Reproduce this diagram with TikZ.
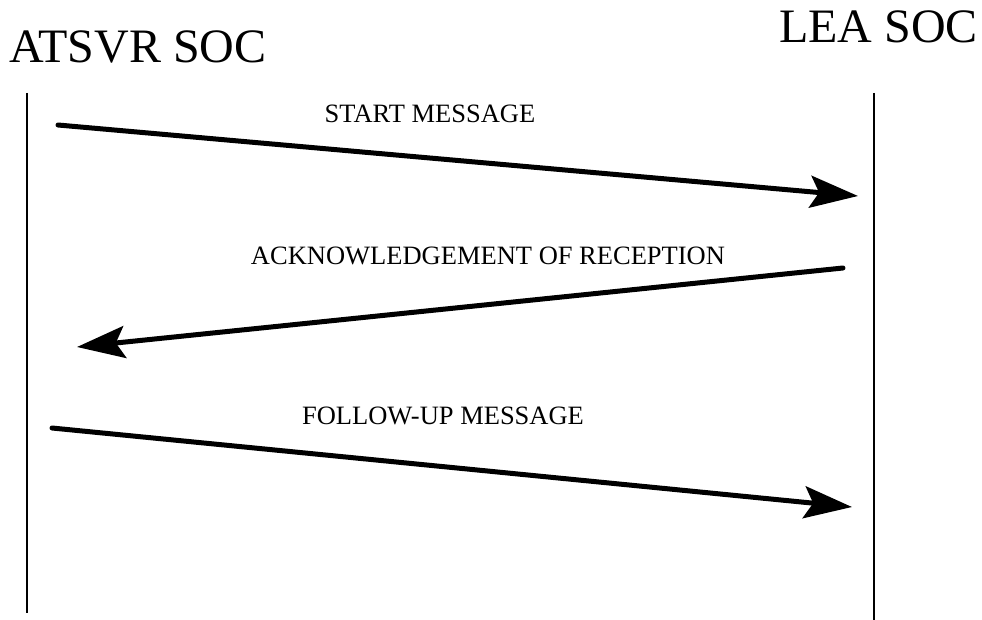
\documentclass[tikz,border=0pt]{standalone}
\usepackage{fontspec}
\setmainfont{Liberation Serif}
\usetikzlibrary{arrows.meta}
\begin{document}
\begin{tikzpicture}[x=1pt,y=-1pt,
  headtext/.style={inner sep=0pt,anchor=base west,font=\rmfamily\fontsize{48}{56}\selectfont},
  msglabel/.style={inner sep=0pt,anchor=base,font=\rmfamily\fontsize{26.5}{30}\selectfont},
  lifeline/.style={line width=2pt},
  msg/.style={line width=5pt,line cap=round,-{Stealth[length=48pt,width=32pt,inset=9pt]}}]
\useasboundingbox (0,0) rectangle (982,620);
\node[headtext] (atsvr) at (9,63) {ATSVR SOC};
\node[headtext] (lea) at (779,43) {LEA SOC};
% lifelines
\coordinate (lt) at (27,93);
\coordinate (lb) at (27,613);
\coordinate (rt) at (874,93);
\coordinate (rb) at (874,620);
\draw[lifeline] (lt) -- (lb);
\draw[lifeline] (rt) -- (rb);
% message endpoints
\coordinate (m1s) at (58,125);
\coordinate (m1e) at (858,196);
\coordinate (m2s) at (843,268);
\coordinate (m2e) at (77,347);
\coordinate (m3s) at (52,428);
\coordinate (m3e) at (852,507);
\draw[msg] (m1s) -- (m1e);
\draw[msg] (m2s) -- (m2e);
\draw[msg] (m3s) -- (m3e);
\node[msglabel] (l1) at (430,123) {START MESSAGE};
\node[msglabel] (l2) at (488,265) {ACKNOWLEDGEMENT OF RECEPTION};
\node[msglabel] (l3) at (443,424) {FOLLOW-UP MESSAGE};
\end{tikzpicture}
\end{document}
